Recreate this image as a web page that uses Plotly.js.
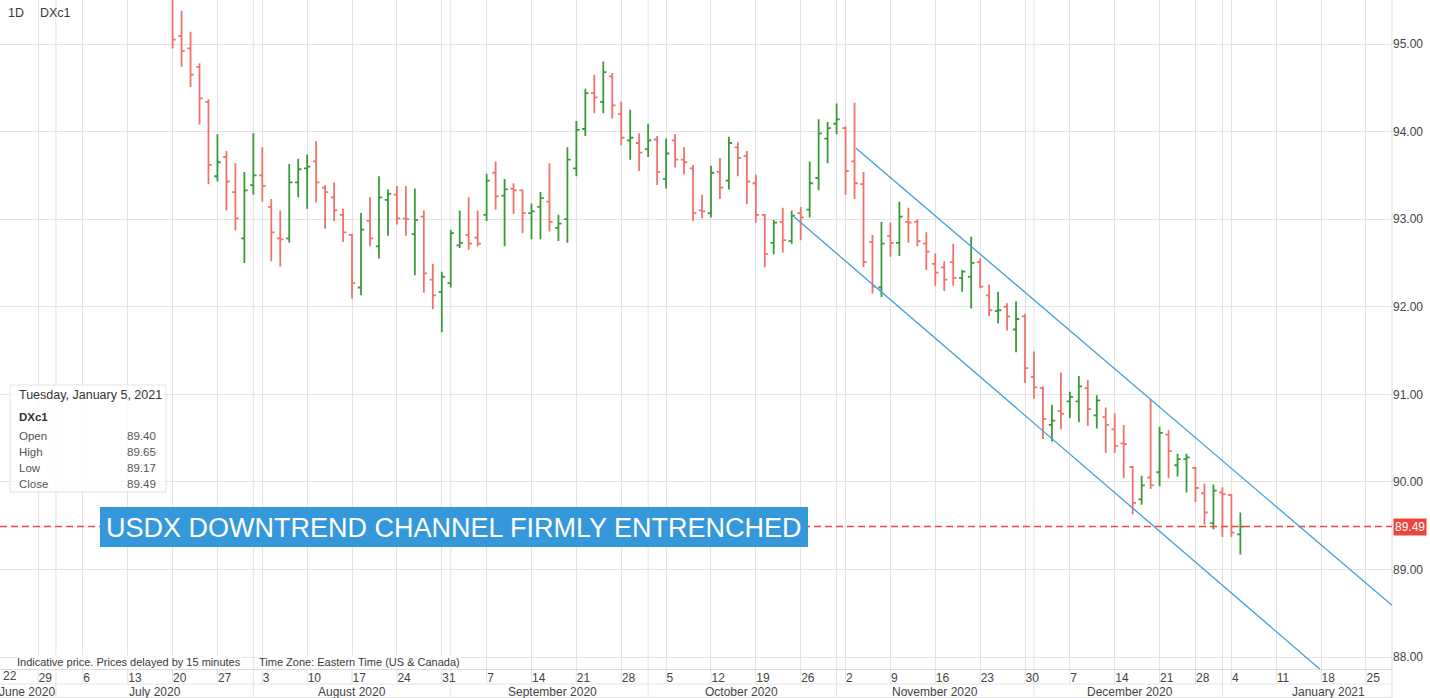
<!DOCTYPE html>
<html>
<head>
<meta charset="utf-8">
<script src="https://cdn.plot.ly/plotly-3.0.1.min.js"></script>
<style>
html,body{margin:0;padding:0;background:#fff;}
#chart{width:1430px;height:698px;}
</style>
</head>
<body>
<div id="chart"></div>
<script>
// ---------------- DATA ----------------
const dates = [
 '2020-07-20','2020-07-21','2020-07-22','2020-07-23','2020-07-24','2020-07-27','2020-07-28','2020-07-29','2020-07-30','2020-07-31',
 '2020-08-03','2020-08-04','2020-08-05','2020-08-06','2020-08-07','2020-08-10','2020-08-11','2020-08-12','2020-08-13','2020-08-14',
 '2020-08-17','2020-08-18','2020-08-19','2020-08-20','2020-08-21','2020-08-24','2020-08-25','2020-08-26','2020-08-27','2020-08-28','2020-08-31',
 '2020-09-01','2020-09-02','2020-09-03','2020-09-04','2020-09-07','2020-09-08','2020-09-09','2020-09-10','2020-09-11',
 '2020-09-14','2020-09-15','2020-09-16','2020-09-17','2020-09-18','2020-09-21','2020-09-22','2020-09-23','2020-09-24','2020-09-25',
 '2020-09-28','2020-09-29','2020-09-30',
 '2020-10-01','2020-10-02','2020-10-05','2020-10-06','2020-10-07','2020-10-08','2020-10-09','2020-10-12','2020-10-13','2020-10-14',
 '2020-10-15','2020-10-16','2020-10-19','2020-10-20','2020-10-21','2020-10-22','2020-10-23','2020-10-26','2020-10-27','2020-10-28',
 '2020-10-29','2020-10-30',
 '2020-11-02','2020-11-03','2020-11-04','2020-11-05','2020-11-06','2020-11-09','2020-11-10','2020-11-11','2020-11-12','2020-11-13',
 '2020-11-16','2020-11-17','2020-11-18','2020-11-19','2020-11-20','2020-11-23','2020-11-24','2020-11-25','2020-11-26','2020-11-27','2020-11-30',
 '2020-12-01','2020-12-02','2020-12-03','2020-12-04','2020-12-07','2020-12-08','2020-12-09','2020-12-10','2020-12-11','2020-12-14',
 '2020-12-15','2020-12-16','2020-12-17','2020-12-18','2020-12-21','2020-12-22','2020-12-23','2020-12-24','2020-12-28','2020-12-29',
 '2020-12-30','2020-12-31',
 '2021-01-04','2021-01-05'
];
const openPx = [
 95.62,95.09,94.95,94.74,94.34,93.49,93.71,93.31,92.78,93.39,
 93.50,93.14,92.78,92.78,93.42,93.58,93.66,93.36,93.25,93.05,
 92.82,92.22,92.98,92.69,93.22,93.28,93.01,92.83,93.03,92.31,92.17,
 92.27,92.70,92.82,92.79,93.05,93.53,93.27,93.35,93.33,
 93.07,93.14,93.20,92.90,93.00,93.58,94.03,94.44,94.34,94.63,
 94.20,93.90,93.87,
 93.80,93.91,93.46,93.90,93.68,93.58,93.10,93.07,93.54,93.44,
 93.82,93.72,93.41,93.05,92.73,92.97,92.75,93.07,93.11,93.47,
 93.92,94.09,
 94.04,93.66,93.40,92.74,92.22,92.81,92.73,92.97,92.97,92.72,
 92.49,92.45,92.51,92.33,92.34,92.51,92.13,91.95,92.00,91.74,91.89,
 91.20,91.07,90.65,90.81,90.92,90.92,91.07,90.76,90.74,90.60,
 90.44,90.17,89.80,90.05,90.11,90.54,90.19,90.26,90.16,89.87,
 89.53,89.88,
 89.85,89.40
];
const highPx = [
 95.68,95.38,95.14,94.78,94.37,93.97,93.78,93.64,93.54,93.98,
 93.82,93.23,93.10,93.63,93.69,93.74,93.89,93.39,93.42,93.12,
 92.83,93.07,93.25,93.49,93.34,93.38,93.38,93.35,93.10,92.49,92.40,
 92.88,93.10,93.25,93.10,93.52,93.66,93.46,93.41,93.34,
 93.18,93.31,93.64,93.05,93.82,94.12,94.49,94.65,94.80,94.67,
 94.34,94.25,93.98,
 94.09,93.95,93.92,93.97,93.82,93.62,93.28,93.61,93.70,93.94,
 93.88,93.78,93.51,93.06,92.99,93.13,93.10,93.14,93.66,94.14,
 94.11,94.32,
 94.06,94.33,93.54,92.82,92.97,92.96,93.20,93.13,93.00,92.85,
 92.61,92.52,92.72,92.42,92.80,92.55,92.25,92.17,92.04,92.06,91.92,
 91.49,91.09,90.88,91.25,91.03,91.21,91.16,90.99,90.85,90.78,
 90.65,90.18,90.07,90.95,90.63,90.59,90.32,90.32,90.17,89.98,
 89.97,89.94,
 89.86,89.65
];
const lowPx = [
 94.95,94.74,94.51,94.08,93.40,93.43,93.10,92.87,92.50,93.28,
 93.20,92.52,92.46,92.73,93.25,93.12,93.19,92.89,92.98,92.74,
 92.09,92.13,92.69,92.55,92.81,92.94,92.81,92.36,92.16,91.97,91.71,
 92.22,92.67,92.65,92.69,92.98,93.11,92.69,93.06,92.84,
 92.77,92.77,92.86,92.75,92.73,93.49,93.95,94.21,94.21,94.15,
 93.84,93.68,93.55,
 93.71,93.39,93.35,93.59,93.51,92.98,93.01,93.02,93.23,93.34,
 93.49,93.17,92.96,92.45,92.60,92.62,92.72,92.76,93.02,93.33,
 93.64,93.97,
 93.28,93.23,92.45,92.15,92.11,92.57,92.58,92.73,92.69,92.42,
 92.24,92.18,92.24,92.17,91.98,92.21,91.89,91.81,91.73,91.48,91.13,
 90.95,90.49,90.46,90.60,90.73,90.68,90.64,90.61,90.33,90.33,
 90.04,89.63,89.74,89.92,89.95,90.04,90.06,89.88,89.77,89.51,
 89.46,89.37,
 89.37,89.17
];
const closePx = [
 95.05,94.92,94.65,94.38,93.62,93.65,93.43,93.01,93.33,93.50,
 93.38,92.85,92.77,93.42,93.57,93.60,93.42,93.31,93.10,92.85,
 92.27,92.88,92.78,93.25,93.29,93.01,93.00,92.99,92.38,92.13,92.34,
 92.84,92.73,92.72,92.72,93.44,93.26,93.34,93.33,93.07,
 93.09,93.24,92.97,92.95,93.68,94.02,94.44,94.39,94.68,94.30,
 93.93,93.93,93.76,
 93.90,93.54,93.75,93.68,93.65,93.07,93.09,93.53,93.36,93.87,
 93.70,93.43,93.05,92.60,92.96,92.76,93.04,93.02,93.41,93.98,
 94.04,94.14,
 93.55,93.41,92.51,92.23,92.72,92.73,93.03,92.96,92.75,92.63,
 92.39,92.31,92.33,92.40,92.50,92.23,91.96,91.96,91.89,91.86,91.30,
 91.08,90.72,90.70,90.78,90.97,91.09,90.83,90.93,90.65,90.41,
 90.43,89.76,89.96,89.96,90.56,90.35,90.26,90.28,89.93,89.65,
 89.90,89.86,
 89.42,89.49
];

const weekTicks = ['2020-06-22','2020-06-29','2020-07-06','2020-07-13','2020-07-20','2020-07-27','2020-08-03','2020-08-10',
 '2020-08-17','2020-08-24','2020-08-31','2020-09-07','2020-09-14','2020-09-21','2020-09-28','2020-10-05','2020-10-12',
 '2020-10-19','2020-10-26','2020-11-02','2020-11-09','2020-11-16','2020-11-23','2020-11-30','2020-12-07','2020-12-14',
 '2020-12-21','2020-12-28','2021-01-04','2021-01-11','2021-01-18','2021-01-25'];
const weekLabels = ['22','29','6','13','20','27','3','10','17','24','31','7','14','21','28','5','12','19','26',
 '2','9','16','23','30','7','14','21','28','4','11','18','25'];
const monthLines = ['2020-07-01','2020-07-31','2020-09-01','2020-10-01','2020-10-30','2020-12-01','2020-12-31'];
const monthNames = ['June 2020','July 2020','August 2020','September 2020','October 2020','November 2020','December 2020','January 2021'];
const monthLabelAt = ['2020-06-25 18:00','2020-07-16','2020-08-17','2020-09-16 08:00','2020-10-15 11:00','2020-11-16','2020-12-15 16:00','2021-01-18 19:00'];
const holidays = ['2020-12-25','2021-01-01'];
const yTicks = [88,89,90,91,92,93,94,95];
const yLabels = ['88.00','89.00','90.00','91.00','92.00','93.00','94.00','95.00'];
const lastClose = 89.49;
const upperChannelX = ['2020-11-03 04:00','2021-01-27 21:36'];
const upperChannelY = [93.81, 88.59];
const lowerChannelX = ['2020-10-23 00:00','2021-01-15 21:00'];
const lowerChannelY = [93.05, 87.86];
const infoRows = [['Open','89.40'],['High','89.65'],['Low','89.17'],['Close','89.49']];

// ---------------- LAYOUT ----------------
const FW = 1430, FH = 698, PW = 1392, PH = 669;
const px2x = p => p / PW;
const py2y = p => (PH - p) / PH;
const gridCol = '#e3e3e3';
const txtCol = '#3a3a3a';
const FONT = 'Liberation Sans, Arial, Helvetica, sans-serif';

const trace = {
  type: 'ohlc',
  x: dates, open: openPx, high: highPx, low: lowPx, close: closePx,
  increasing: {line: {color: '#3a9a3a', width: 1.8}},
  decreasing: {line: {color: '#f0736b', width: 1.8}},
  tickwidth: 0.36,
  hoverinfo: 'skip'
};

const shapes = [];
weekTicks.forEach(t => shapes.push({type:'line', xref:'x', yref:'paper', x0:t, x1:t, y0:0, y1:py2y(684), line:{color:gridCol, width:1}, layer:'below'}));
monthLines.forEach(m => shapes.push({type:'line', xref:'x', yref:'paper', x0:m, x1:m, y0:py2y(698), y1:1, line:{color:gridCol, width:1}, layer:'below'}));
shapes.push({type:'line', xref:'paper', yref:'paper', x0:0, x1:1, y0:py2y(684), y1:py2y(684), line:{color:gridCol, width:1}});
shapes.push({type:'line', xref:'paper', yref:'paper', x0:0, x1:1, y0:py2y(697.5), y1:py2y(697.5), line:{color:gridCol, width:1}});
shapes.push({type:'line', xref:'paper', yref:'paper', x0:1, x1:1, y0:py2y(698), y1:1, line:{color:'#dcdcdc', width:1}});
shapes.push({type:'line', xref:'paper', yref:'y', x0:0, x1:1, y0:lastClose, y1:lastClose, line:{color:'#ee4a40', width:1.5, dash:'7px,4px'}, layer:'above'});
shapes.push({type:'line', xref:'x', yref:'y', x0:upperChannelX[0], x1:upperChannelX[1], y0:upperChannelY[0], y1:upperChannelY[1], line:{color:'#3d9ee0', width:1.3}, layer:'above'});
shapes.push({type:'line', xref:'x', yref:'y', x0:lowerChannelX[0], x1:lowerChannelX[1], y0:lowerChannelY[0], y1:lowerChannelY[1], line:{color:'#3d9ee0', width:1.3}, layer:'above'});
shapes.push({type:'rect', xref:'paper', yref:'paper', x0:px2x(10), x1:px2x(166), y0:py2y(492), y1:py2y(385), fillcolor:'rgba(255,255,255,0.8)', line:{color:'#e2e2e2', width:1}, layer:'above'});
shapes.push({type:'rect', xref:'paper', yref:'paper', x0:px2x(100), x1:px2x(808), y0:py2y(547), y1:py2y(507), fillcolor:'#3598db', line:{width:0}, layer:'above'});

const annotations = [];
function txt(text, px, py, opts) {
  const o = Object.assign({size:12, color:txtCol, anchor:'left', bg:null, bold:false}, opts || {});
  const a = {xref:'paper', yref:'paper', x:px2x(px), y:py2y(py), xanchor:o.anchor, yanchor:'middle',
    text: o.bold ? '<b>'+text+'</b>' : text, showarrow:false, font:{family:FONT, size:o.size, color:o.color}, borderpad:0};
  if (o.bg) { a.bgcolor = o.bg; }
  annotations.push(a);
}
txt('1D', 7, 13, {size:12.5});
txt('DXc1', 39, 13, {size:12.5});
txt('Tuesday, January 5, 2021', 18, 395, {size:12.5, color:'#333'});
txt('DXc1', 18, 417, {size:11.5, bold:true, color:'#333'});
infoRows.forEach((r, i) => {
  txt(r[0], 18, 436 + i*16, {size:11.5, color:'#555'});
  txt(r[1], 157, 436 + i*16, {size:11.5, color:'#555', anchor:'right'});
});
annotations.push({xref:'paper', yref:'paper', x:px2x(454), y:py2y(528), xanchor:'center', yanchor:'middle', showarrow:false,
  text:'USDX DOWNTREND CHANNEL FIRMLY ENTRENCHED', font:{family:FONT, size:27, color:'#ffffff'}});
txt('Indicative price. Prices delayed by 15 minutes', 16, 662, {size:11, bg:'#ffffff'});
txt('Time Zone: Eastern Time (US & Canada)', 258, 662, {size:11, bg:'#ffffff'});
txt(weekLabels[0], 2, 676, {size:12, color:'#444'});
monthNames.forEach((m, i) => annotations.push({xref:'x', yref:'paper', x:monthLabelAt[i], y:py2y(691.5), xanchor:'center', yanchor:'middle',
  showarrow:false, text:m, font:{family:FONT, size:12, color:'#444'}}));
annotations.push({xref:'paper', yref:'y', x:1, y:lastClose, xanchor:'left', yanchor:'middle', showarrow:false,
  text:lastClose.toFixed(2), font:{family:FONT, size:12, color:'#ffffff'}, bgcolor:'#e8453c', borderpad:1, xshift:1});

const layout = {
  width: FW, height: FH,
  margin: {l:0, r:FW-PW, t:0, b:FH-PH, pad:0},
  paper_bgcolor:'#ffffff', plot_bgcolor:'#ffffff',
  showlegend:false,
  font:{family:FONT, size:12, color:txtCol},
  xaxis:{
    type:'date',
    range:['2020-06-22 18:22','2021-01-27 21:36'],
    rangebreaks:[{bounds:['sat','mon']},{values:holidays}],
    tickmode:'array', tickvals:weekTicks, ticktext:weekLabels,
    ticklabelposition:'outside right',
    ticklabelstandoff:-2,
    ticks:'', showgrid:true, gridcolor:gridCol, gridwidth:1,
    showline:true, linecolor:'#dcdcdc', linewidth:1,
    zeroline:false,
    tickfont:{family:FONT, size:12, color:'#444'},
    rangeslider:{visible:false}, fixedrange:true
  },
  yaxis:{
    side:'right',
    range:[87.863, 95.503],
    tickmode:'array', tickvals:yTicks, ticktext:yLabels,
    ticks:'', showgrid:true, gridcolor:gridCol, gridwidth:1,
    zeroline:false, showline:false,
    tickfont:{family:FONT, size:12, color:'#444'},
    fixedrange:true
  },
  shapes: shapes,
  annotations: annotations
};

Plotly.newPlot('chart', [trace], layout, {displayModeBar:false, staticPlot:true});
</script>
</body>
</html>
